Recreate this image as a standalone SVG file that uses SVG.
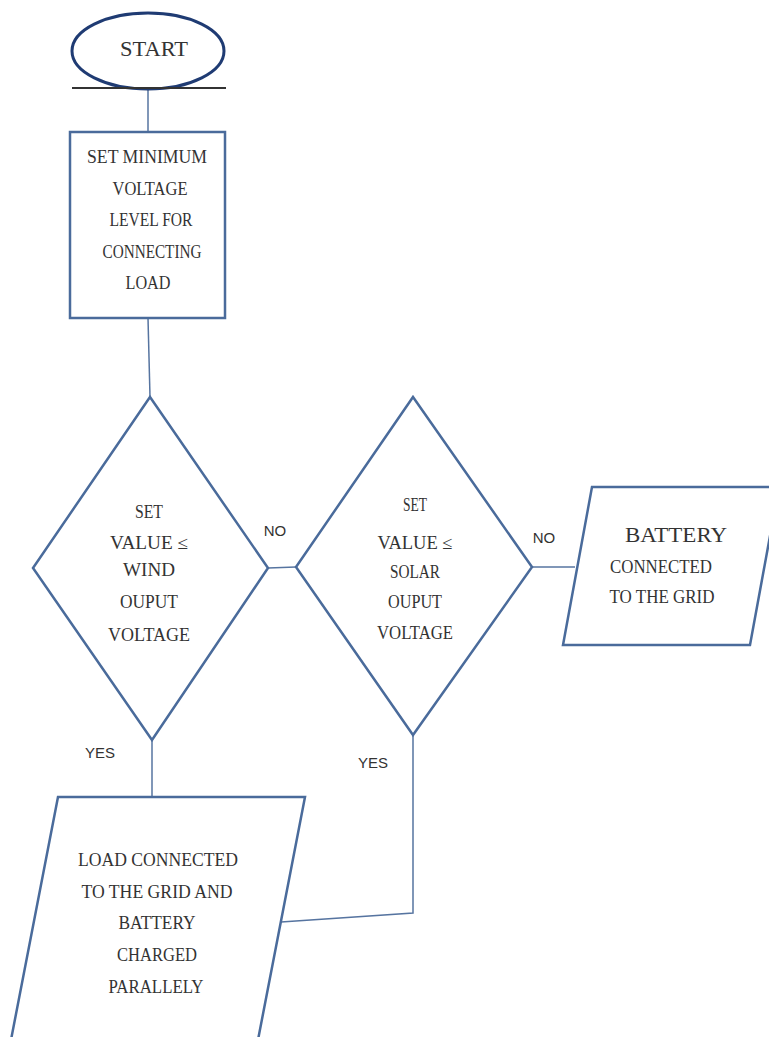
<svg xmlns="http://www.w3.org/2000/svg" width="769" height="1037" viewBox="0 0 769 1037">
<style>
.bg{fill:#ffffff}
.shape{fill:#ffffff;stroke:#4a6b9b;stroke-width:2.5}
.conn{fill:none;stroke:#5674a0;stroke-width:1.5}
.t{font-family:"Liberation Serif","Times New Roman",serif;font-size:18px;fill:#333333;text-anchor:middle}
.lbl{font-family:"Liberation Sans",Arial,sans-serif;font-size:15px;fill:#333333;text-anchor:middle}
</style>
<rect class="bg" x="0" y="0" width="769" height="1037"/>
<g id="connectors">
<line class="conn" x1="148" y1="88" x2="148" y2="132"/>
<line class="conn" x1="148" y1="318" x2="150" y2="397"/>
<line class="conn" x1="268" y1="568" x2="296" y2="567"/>
<line class="conn" x1="532" y1="567" x2="575" y2="567"/>
<line class="conn" x1="152" y1="740" x2="152" y2="797"/>
<polyline class="conn" points="413,735 413,913 281,922"/>
<text class="lbl" x="275" y="536">NO</text>
<text class="lbl" x="544" y="543">NO</text>
<text class="lbl" x="100" y="758">YES</text>
<text class="lbl" x="373" y="768">YES</text>
</g>
<g id="start">
<ellipse cx="148" cy="51" rx="76" ry="38" fill="#ffffff" stroke="#1f3b73" stroke-width="3"/>
<line x1="72" y1="88" x2="226" y2="88" stroke="#333333" stroke-width="2"/>
<text class="t" x="154" y="56" style="font-size:22px" textLength="68" lengthAdjust="spacingAndGlyphs">START</text>
</g>
<g id="set-min">
<rect class="shape" x="70" y="132" width="155" height="186"/>
<text class="t" x="147" y="163" textLength="120" lengthAdjust="spacingAndGlyphs">SET  MINIMUM</text>
<text class="t" x="150" y="195" textLength="75" lengthAdjust="spacingAndGlyphs">VOLTAGE</text>
<text class="t" x="151" y="226" textLength="83" lengthAdjust="spacingAndGlyphs">LEVEL  FOR</text>
<text class="t" x="152" y="258" textLength="99" lengthAdjust="spacingAndGlyphs">CONNECTING</text>
<text class="t" x="148" y="289" textLength="45" lengthAdjust="spacingAndGlyphs">LOAD</text>
</g>
<g id="wind-decision">
<polygon class="shape" points="150,397 268,568 152,740 33,568"/>
<text class="t" x="149" y="518" textLength="28" lengthAdjust="spacingAndGlyphs">SET</text>
<text class="t" x="149" y="549" textLength="78" lengthAdjust="spacingAndGlyphs">VALUE  ≤</text>
<text class="t" x="149" y="576" textLength="52" lengthAdjust="spacingAndGlyphs">WIND</text>
<text class="t" x="149" y="608" textLength="58" lengthAdjust="spacingAndGlyphs">OUPUT</text>
<text class="t" x="149" y="641" textLength="82" lengthAdjust="spacingAndGlyphs">VOLTAGE</text>
</g>
<g id="solar-decision">
<polygon class="shape" points="413,397 532,567 413,735 296,567"/>
<text class="t" x="415" y="511" textLength="24" lengthAdjust="spacingAndGlyphs">SET</text>
<text class="t" x="415" y="549" textLength="75" lengthAdjust="spacingAndGlyphs">VALUE  ≤</text>
<text class="t" x="415" y="578" textLength="50" lengthAdjust="spacingAndGlyphs">SOLAR</text>
<text class="t" x="415" y="608" textLength="54" lengthAdjust="spacingAndGlyphs">OUPUT</text>
<text class="t" x="415" y="639" textLength="76" lengthAdjust="spacingAndGlyphs">VOLTAGE</text>
</g>
<g id="battery-grid">
<polygon class="shape" points="592,487 779,487 750,645 563,645"/>
<text class="t" x="676" y="542" style="font-size:21px" textLength="102" lengthAdjust="spacingAndGlyphs">BATTERY</text>
<text class="t" x="661" y="573" textLength="102" lengthAdjust="spacingAndGlyphs">CONNECTED</text>
<text class="t" x="662" y="603" textLength="105" lengthAdjust="spacingAndGlyphs">TO  THE  GRID</text>
</g>
<g id="load-grid">
<polygon class="shape" points="58,797 305,797 257,1045 10,1045"/>
<text class="t" x="158" y="866" textLength="160" lengthAdjust="spacingAndGlyphs">LOAD  CONNECTED</text>
<text class="t" x="157" y="898" textLength="151" lengthAdjust="spacingAndGlyphs">TO  THE  GRID  AND</text>
<text class="t" x="157" y="929" textLength="77" lengthAdjust="spacingAndGlyphs">BATTERY</text>
<text class="t" x="157" y="961" textLength="80" lengthAdjust="spacingAndGlyphs">CHARGED</text>
<text class="t" x="156" y="993" textLength="95" lengthAdjust="spacingAndGlyphs">PARALLELY</text>
</g>
</svg>
